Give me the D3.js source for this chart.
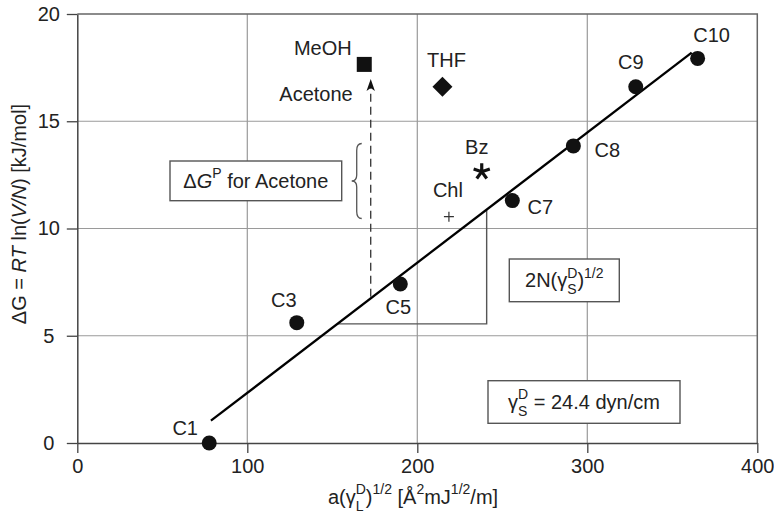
<!DOCTYPE html>
<html>
<head>
<meta charset="utf-8">
<script src="https://cdn.jsdelivr.net/npm/d3@7"></script>
<style>
  body { margin: 0; background: #fff; }
  text { font-family: "Liberation Sans", Arial, Helvetica, sans-serif; fill: #222; white-space: pre; }
</style>
</head>
<body>
<svg id="chart" width="774" height="524"></svg>
<script>
// n-alkane probes
const alkaneNames = ["C1", "C3", "C5", "C7", "C8", "C9", "C10"];
const alkaneX = [77.6, 129.1, 190.0, 255.9, 291.8, 328.5, 364.9];
const alkaneY = [0.0, 5.61, 7.41, 11.30, 13.85, 16.61, 17.93];

// polar probes
const polarNames = ["MeOH", "THF", "Bz", "Chl"];
const polarX = [168.8, 214.8, 237.9, 218.6];
const polarY = [17.65, 16.61, 12.65, 10.55];
const polarSymbols = ["square", "diamond", "asterisk", "plus"];

// alkane reference line (end points)
const lineX = [78.6, 361.4];
const lineY = [1.04, 18.2];

// acetone: reference-line value and measured value
const acetoneX = 172.6;
const acetoneY = [6.82, 16.97];

// slope triangle (x extent, y taken from the reference line)
const triX = [153.0, 240.8];

const xTicks = [0, 100, 200, 300, 400];
const yTicks = [0, 5, 10, 15, 20];
const xGrid = [100, 200, 300];
const yGrid = [5, 10, 15];

const FS = 20;
const svg = d3.select("#chart");
const x = d3.scaleLinear().domain([0, 400]).range([77.3, 757.3]);
const y = d3.scaleLinear().domain([0, 20]).range([443, 14]);
const lineAt = v => lineY[0] + (lineY[1] - lineY[0]) * (v - lineX[0]) / (lineX[1] - lineX[0]);

// lays out a run of text pieces (normal / italic / super / sub / stacked)
function rich(g, cx, cy, parts, anchor, size) {
  const grp = g.append("g");
  let pos = 0, prevStart = 0;
  parts.forEach(p => {
    const fs = p.small ? size * 0.7 : size;
    const t = grp.append("text")
      .attr("x", p.stack ? prevStart : pos)
      .attr("y", p.sup ? -size * 0.48 : p.sub ? size * 0.34 : 0)
      .style("font-size", fs + "px")
      .style("font-style", p.italic ? "italic" : "normal")
      .text(p.t);
    const w = t.node().getComputedTextLength();
    if (p.stack) pos = Math.max(pos, prevStart + w);
    else { prevStart = pos; pos += w; }
  });
  const shift = anchor === "middle" ? -pos / 2 : anchor === "end" ? -pos : 0;
  grp.attr("transform", `translate(${cx + shift},${cy + size * 0.35})`);
  return grp;
}

// grid
svg.append("g").selectAll("line.gx").data(xGrid).join("line")
  .attr("x1", d => x(d)).attr("x2", d => x(d)).attr("y1", y(20)).attr("y2", y(0))
  .attr("stroke", "#9a9a9a").attr("stroke-width", 1.2);
svg.append("g").selectAll("line.gy").data(yGrid).join("line")
  .attr("x1", x(0)).attr("x2", x(400)).attr("y1", d => y(d)).attr("y2", d => y(d))
  .attr("stroke", "#9a9a9a").attr("stroke-width", 1.2);

// frame top/right
svg.append("path")
  .attr("d", `M${x(0)},${y(20)}H${x(400)}V${y(0)}`)
  .attr("fill", "none").attr("stroke", "#666").attr("stroke-width", 1.5);

// axes
const xAxis = svg.append("g").attr("transform", `translate(0,${y(0)})`)
  .call(d3.axisBottom(x).tickValues(xTicks).tickSize(10).tickSizeOuter(0));
xAxis.selectAll("text").attr("y", 16).style("font-size", FS + "px").attr("fill", "#222");
const yAxis = svg.append("g").attr("transform", `translate(${x(0)},0)`)
  .call(d3.axisLeft(y).tickValues(yTicks).tickSize(10.5).tickSizeOuter(0));
yAxis.selectAll("text").attr("x", -28.5).attr("text-anchor", "middle").style("font-size", FS + "px").attr("fill", "#222");
[xAxis, yAxis].forEach(a => {
  a.selectAll("line").attr("stroke", "#444").attr("stroke-width", 1.3);
  a.select(".domain").attr("stroke", "#444").attr("stroke-width", 1.5);
});

// axis titles
rich(svg, 413, 497, [
  { t: "a(γ" }, { t: "D", small: true, sup: true }, { t: "L", small: true, sub: true, stack: true },
  { t: ")" }, { t: "1/2", small: true, sup: true }, { t: " [Å" }, { t: "2", small: true, sup: true },
  { t: "mJ" }, { t: "1/2", small: true, sup: true }, { t: "/m]" }
], "middle", FS);
const yt = svg.append("g").attr("transform", `translate(18.5,214) rotate(-90)`);
rich(yt, 0, 0, [
  { t: "ΔG = " }, { t: "RT", italic: true }, { t: " ln(" }, { t: "V/N", italic: true }, { t: ") [kJ/mol]" }
], "middle", FS);

// slope triangle
svg.append("path")
  .attr("d", `M${x(triX[0])},${y(lineAt(triX[0]))}H${x(triX[1])}V${y(lineAt(triX[1]))}`)
  .attr("fill", "none").attr("stroke", "#555").attr("stroke-width", 1.4);

// reference line
svg.append("line")
  .attr("x1", x(lineX[0])).attr("y1", y(lineY[0])).attr("x2", x(lineX[1])).attr("y2", y(lineY[1]))
  .attr("stroke", "#000").attr("stroke-width", 2.3);

// acetone arrow
const ax = x(acetoneX), aTip = y(acetoneY[1]);
svg.append("line")
  .attr("x1", ax).attr("x2", ax).attr("y1", y(acetoneY[0])).attr("y2", aTip + 9)
  .attr("stroke", "#333").attr("stroke-width", 1.3).attr("stroke-dasharray", "8,5");
svg.append("path")
  .attr("d", `M${ax},${aTip}L${ax + 4.2},${aTip + 12}L${ax},${aTip + 9}L${ax - 4.2},${aTip + 12}Z`)
  .attr("fill", "#111");

// brace beside the arrow
const bx = ax - 13, bTop = 143.5, bBot = 218.5, bMid = (bTop + bBot) / 2;
svg.append("path")
  .attr("d", `M${bx + 4},${bTop} Q${bx - 1},${bTop} ${bx - 1},${bTop + 7} L${bx - 1},${bMid - 6} Q${bx - 1},${bMid} ${bx - 6},${bMid}` +
             ` Q${bx - 1},${bMid} ${bx - 1},${bMid + 6} L${bx - 1},${bBot - 7} Q${bx - 1},${bBot} ${bx + 4},${bBot}`)
  .attr("fill", "none").attr("stroke", "#555").attr("stroke-width", 1.3);

// alkane points
const alk = alkaneNames.map((n, i) => ({ n, x: alkaneX[i], y: alkaneY[i] }));
svg.append("g").selectAll("circle").data(alk).join("circle")
  .attr("cx", d => x(d.x)).attr("cy", d => y(d.y)).attr("r", 7.5).attr("fill", "#111");
const alkLabelOffset = { C1: [-24, -15], C3: [-13, -23], C5: [-2, 23], C7: [28, 6], C8: [34, 4], C9: [-5, -25], C10: [14, -23] };
alk.forEach(d => {
  const o = alkLabelOffset[d.n];
  rich(svg, x(d.x) + o[0], y(d.y) + o[1], [{ t: d.n }], "middle", FS);
});

// polar probes
const pol = polarNames.map((n, i) => ({ n, x: polarX[i], y: polarY[i], s: polarSymbols[i] }));
const pg = svg.append("g");
pol.forEach(d => {
  const px = x(d.x), py = y(d.y);
  if (d.s === "square") {
    pg.append("rect").attr("x", px - 7.5).attr("y", py - 7.5).attr("width", 15).attr("height", 15).attr("fill", "#111");
  } else if (d.s === "diamond") {
    pg.append("path").attr("d", `M${px},${py - 10}L${px + 10},${py}L${px},${py + 10}L${px - 10},${py}Z`).attr("fill", "#111");
  } else if (d.s === "asterisk") {
    const arms = d3.range(5).map(k => -90 + k * 72);
    pg.append("path")
      .attr("d", arms.map(a => `M${px},${py}L${px + 8.5 * Math.cos(a * Math.PI / 180)},${py + 8.5 * Math.sin(a * Math.PI / 180)}`).join(""))
      .attr("stroke", "#111").attr("stroke-width", 3.2).attr("stroke-linecap", "butt");
  } else if (d.s === "plus") {
    pg.append("path").attr("d", `M${px - 5},${py}H${px + 5}M${px},${py - 5}V${py + 5}`)
      .attr("stroke", "#333").attr("stroke-width", 1.2);
  }
});
const polLabel = { MeOH: [-12.5, -16.5, "end"], THF: [4, -27, "middle"], Bz: [-5, -25, "middle"], Chl: [-1, -27, "middle"] };
pol.forEach(d => {
  const o = polLabel[d.n];
  rich(svg, x(d.x) + o[0], y(d.y) + o[1], [{ t: d.n }], o[2], FS);
});
rich(svg, ax - 18, aTip + 15, [{ t: "Acetone" }], "end", FS);

// boxed annotations
function box(x0, y0, x1, y1, parts) {
  svg.append("rect").attr("x", x0).attr("y", y0).attr("width", x1 - x0).attr("height", y1 - y0)
    .attr("fill", "#fff").attr("stroke", "#555").attr("stroke-width", 1.4);
  rich(svg, (x0 + x1) / 2, (y0 + y1) / 2, parts, "middle", FS);
}
box(170, 161, 341.7, 200.7, [
  { t: "Δ" }, { t: "G", italic: true }, { t: "P", small: true, sup: true }, { t: " for Acetone" }
]);
box(509.3, 259, 619.3, 301.7, [
  { t: "2N(γ" }, { t: "D", small: true, sup: true }, { t: "S", small: true, sub: true, stack: true },
  { t: ")" }, { t: "1/2", small: true, sup: true }
]);
box(488, 380.7, 680, 423.3, [
  { t: "γ" }, { t: "D", small: true, sup: true }, { t: "S", small: true, sub: true, stack: true },
  { t: " = 24.4 dyn/cm" }
]);
</script>
</body>
</html>
